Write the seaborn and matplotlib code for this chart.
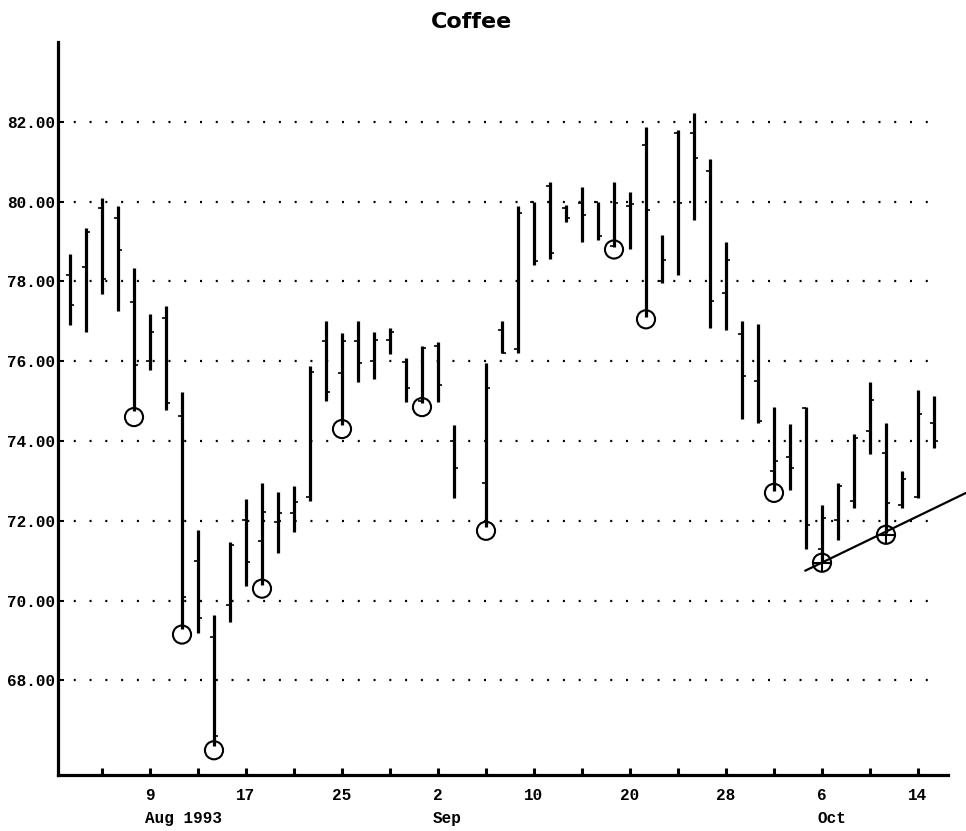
import pandas as pd
import matplotlib.pyplot as plt
import matplotlib.transforms as mtransforms
import seaborn as sns

# Dados: barras diarias (posicao em dias uteis, 0 = 9 de agosto de 1993)
day = [-5, -4, -3, -2, -1, 0, 1, 2, 3, 4, 5, 6, 7, 8, 9, 10, 11, 12, 13, 14,
       15, 16, 17, 18, 19, 21, 22, 23, 24, 25, 26, 27, 28, 29, 30, 31, 32, 33,
       34, 35, 36, 37, 38, 39, 40, 41, 42, 43, 44, 45, 46, 47, 48, 49]
high = [78.69, 79.34, 80.09, 79.89, 78.33, 77.18, 77.39, 75.22, 71.77, 69.64,
        71.48, 72.54, 72.94, 72.71, 72.88, 75.87, 77.00, 76.70, 77.00, 76.74,
        76.83, 76.08, 76.37, 76.47, 74.41, 75.96, 77.00, 79.89, 80.00, 80.48,
        79.92, 80.36, 80.00, 80.50, 80.25, 81.88, 79.17, 81.80, 82.22, 81.06,
        78.98, 77.01, 76.93, 74.86, 74.42, 74.86, 72.40, 72.94, 74.18, 75.49,
        74.45, 73.24, 75.28, 75.13]
low = [76.90, 76.74, 77.68, 77.27, 74.75, 75.77, 74.78, 69.30, 69.19, 66.35,
       69.46, 70.37, 70.40, 71.19, 71.71, 72.50, 75.01, 74.40, 75.49, 75.56,
       76.19, 74.97, 74.95, 74.99, 72.57, 71.85, 76.20, 76.20, 78.42, 78.56,
       79.50, 79.00, 79.03, 78.85, 78.82, 77.10, 77.97, 78.17, 79.54, 76.84,
       76.79, 74.55, 74.45, 72.75, 72.78, 71.29, 71.00, 71.52, 72.32, 73.68,
       71.70, 72.32, 72.57, 73.82]
open_ = [78.17, 78.37, 79.84, 79.60, 77.49, 76.00, 77.09, 74.63, 71.00, 69.10,
         69.90, 72.01, 71.50, 71.98, 72.20, 72.60, 76.50, 75.70, 76.50, 76.00,
         76.54, 75.99, 75.00, 76.37, 73.99, 72.96, 76.79, 76.30, 79.98, 80.38,
         79.85, 79.97, 79.98, 78.90, 79.89, 81.42, 78.00, 81.72, 81.72, 80.76,
         77.71, 76.69, 75.50, 73.26, 73.61, 74.83, 71.30, 72.03, 72.50, 74.24,
         73.70, 72.40, 72.60, 74.46]
close = [77.40, 79.23, 78.07, 78.79, 75.90, 76.72, 74.96, 70.10, 69.57, 66.60,
         71.40, 70.98, 72.21, 72.20, 72.46, 75.74, 75.24, 76.50, 75.95, 76.54,
         76.74, 75.33, 76.33, 75.41, 73.32, 75.33, 76.20, 79.71, 78.50, 78.72,
         79.60, 79.67, 79.13, 79.96, 79.95, 79.80, 78.54, 79.96, 81.09, 77.50,
         78.54, 75.63, 74.50, 73.49, 73.32, 71.90, 72.07, 72.87, 74.07, 75.03,
         72.44, 73.04, 74.68, 74.01]

# Circulos de marcacao
circle_day = [-1, 2, 4, 7, 12, 17, 21, 29, 31, 39, 42, 46]
circle_val = [74.60, 69.15, 66.25, 70.30, 74.30, 74.85, 71.75, 78.80, 77.05, 72.70, 70.95, 71.65]
cross_day = [42, 46]
cross_val = [70.95, 71.65]

# Linha de tendencia
trend_day = [40.95, 51.0]
trend_val = [70.75, 72.70]

# Eixos
tick_days = [-3, 0, 3, 6, 9, 12, 15, 18, 21, 24, 27, 30, 33, 36, 39, 42, 45, 48]
label_days = [0, 6, 12, 18, 24, 30, 36, 42, 48]
day_labels = ['9', '17', '25', '2', '10', '20', '28', '6', '14']
month_days = [0, 18, 42]
month_labels = ['Aug 1993', 'Sep', 'Oct']
y_ticks = [68, 70, 72, 74, 76, 78, 80, 82]

sns.set_style('white')
plt.rcParams.update({'text.color': 'black', 'axes.edgecolor': 'black',
                     'xtick.color': 'black', 'ytick.color': 'black',
                     'xtick.bottom': True, 'ytick.left': True})
mono = ['Liberation Mono', 'DejaVu Sans Mono']

fig = plt.figure(figsize=(9.66, 8.31), dpi=100)
ax = fig.add_axes([58 / 966, 56 / 831, 890 / 966, 733 / 831])

# grade pontilhada
ax.hlines(y_ticks, -5.75, 49.1, colors='black', linewidth=1.6,
          linestyles=[(0, (0.9, 6.2))] * len(y_ticks), zorder=1)

# barras OHLC
ax.vlines(day, low, high, colors='black', linewidth=2.3, zorder=2)
ax.hlines(open_, [d - 0.25 for d in day], day, colors='black', linewidth=1.2, zorder=2)
ax.hlines(close, day, [d + 0.25 for d in day], colors='black', linewidth=1.2, zorder=2)

circles = pd.DataFrame({'day': circle_day, 'val': circle_val})
sns.scatterplot(data=circles, x='day', y='val', ax=ax, marker='o', s=170,
                facecolor='none', edgecolor='black', linewidth=1.5, zorder=3)
crosses = pd.DataFrame({'day': cross_day, 'val': cross_val})
sns.scatterplot(data=crosses, x='day', y='val', ax=ax, marker='+', s=150,
                color='black', linewidth=1.5, zorder=3)

trend = pd.DataFrame({'day': trend_day, 'val': trend_val})
sns.lineplot(data=trend, x='day', y='val', ax=ax, color='black', linewidth=1.6,
             zorder=3, clip_on=False)

ax.set_xlim(-5.75, 49.875)
ax.set_ylim(65.63, 84.0)
ax.set_xlabel('')
ax.set_ylabel('')

ax.set_xticks(tick_days)
ax.set_xticklabels([day_labels[label_days.index(t)] if t in label_days else '' for t in tick_days])
ax.set_yticks(y_ticks)
ax.set_yticklabels([f'{v:.2f}' for v in y_ticks])

for lab in ax.get_xticklabels() + ax.get_yticklabels():
    lab.set_family(mono)
    lab.set_fontweight('bold')
    lab.set_fontsize(11.5)
    lab.set_color('black')

ax.tick_params(axis='x', bottom=True, direction='in', length=5, width=2.2, pad=9, color='black')
ax.tick_params(axis='y', left=True, direction='in', length=4, width=1.5, pad=2, color='black')

for side in ['top', 'right']:
    ax.spines[side].set_visible(False)
ax.spines['left'].set_linewidth(2.3)
ax.spines['bottom'].set_linewidth(2.3)
ax.spines['left'].set_color('black')
ax.spines['bottom'].set_color('black')

trans = mtransforms.blended_transform_factory(ax.transData, ax.transAxes)
for d, txt in zip(month_days, month_labels):
    ax.text(d - 0.3, -0.059, txt, transform=trans, ha='left', va='center',
            family=mono, fontweight='bold', fontsize=11.5, color='black')

fig.text(472 / 966, 1 - 22 / 831, 'Coffee', ha='center', va='center',
         fontsize=16, fontweight='bold', family=['DejaVu Sans'], color='black')

fig.savefig('out.png', dpi=100)
